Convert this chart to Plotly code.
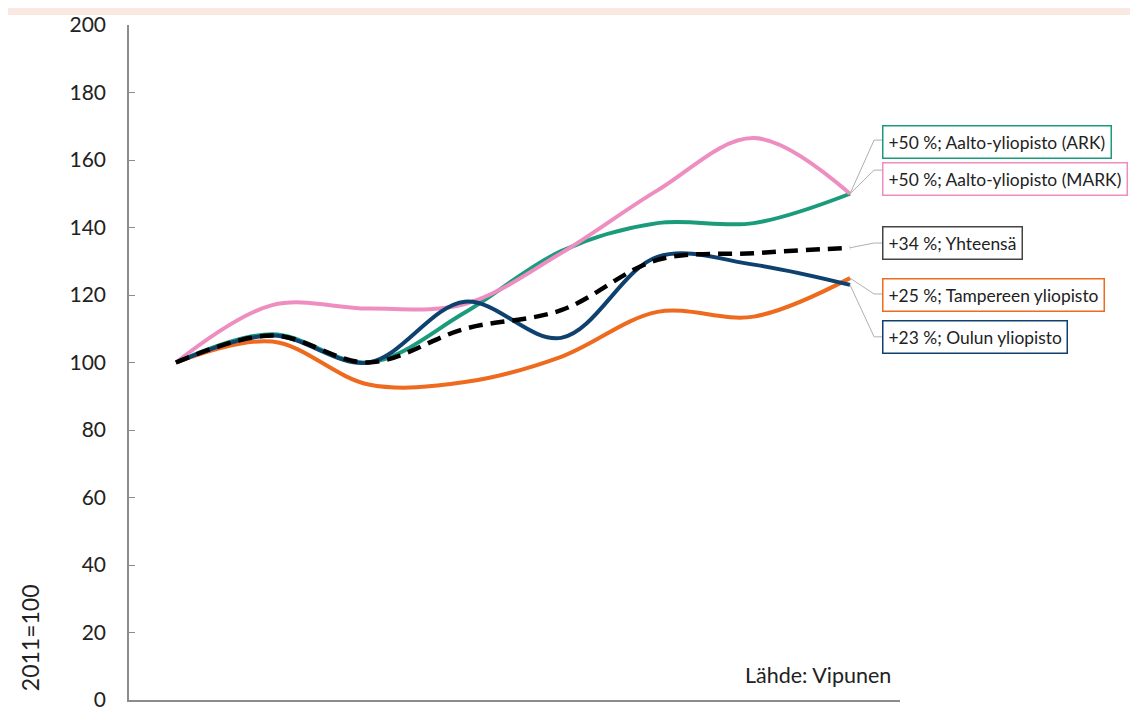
import plotly.graph_objects as go

# aineisto: indeksi 2011=100
vuodet = [2011, 2012, 2013, 2014, 2015, 2016, 2017, 2018]
aalto_ark = [100, 108.4, 100, 114.8, 133, 141.3, 141.3, 150]
aalto_mark = [100, 117, 116, 117.3, 132.4, 151, 166.5, 150]
yhteensa = [100, 108, 100, 110, 115.5, 130.4, 132.4, 134]
tampere = [100, 106.2, 93.5, 94.2, 101.7, 115, 113.6, 125]
oulu = [100, 108, 100, 118, 107.3, 131.3, 129, 123]

nimet = ["+50 %; Aalto-yliopisto (ARK)", "+50 %; Aalto-yliopisto (MARK)", "+34 %; Yhteensä",
         "+25 %; Tampereen yliopisto", "+23 %; Oulun yliopisto"]
sarjat = [aalto_ark, aalto_mark, yhteensa, tampere, oulu]
varit = ["#1A9B7C", "#EE8EC0", "#000000", "#EE6A1E", "#0F416F"]
laatikko_y = [165.3, 154.5, 135.3, 120.1, 107.7]   # laatikoiden keskikohdat (y)
kulma_y = [165.9, 157.0, 135.4, 120.3, 107.6]      # johtoviivan taitekohta
piirto = [0, 1, 3, 4, 2]                            # piirtojärjestys

FONT = "Lato"

fig = go.Figure()
for i in piirto:
    fig.add_trace(go.Scatter(
        x=vuodet, y=sarjat[i], mode="lines", name=nimet[i],
        line=dict(color=varit[i], width=4.5 if i == 2 else 4, shape="spline", smoothing=1,
                  dash="14px,8px" if i == 2 else "solid"),
        showlegend=False))

# johtoviivat ja laatikot
for i, nimi in enumerate(nimet):
    x0 = vuodet[-1]
    y0 = sarjat[i][-1]
    fig.add_shape(type="path", xref="x", yref="y",
                  path=f"M {x0},{y0} L {x0 + 0.25},{kulma_y[i]} L {x0 + 0.333},{kulma_y[i]}",
                  line=dict(color="#B0B0B0", width=1))
    fig.add_annotation(x=0.9767, xref="paper", y=laatikko_y[i], yref="y",
                       text=nimi, showarrow=False, xanchor="left", yanchor="middle",
                       font=dict(family=FONT, size=17.4, color="#222222"),
                       bordercolor=varit[i] if i != 2 else "#444444", borderwidth=1.5,
                       borderpad=5, bgcolor="white")

fig.add_annotation(x=0.991, xref="paper", y=7.4, yref="y", text="Lähde: Vipunen",
                   showarrow=False, xanchor="right", yanchor="middle",
                   font=dict(family=FONT, size=21.5, color="#222222"))
fig.add_annotation(x=-0.128, xref="paper", y=0.092, yref="paper", text="2011=100",
                   textangle=-90, showarrow=False, xanchor="center", yanchor="middle",
                   font=dict(family=FONT, size=23, color="#222222"))

# vaaleanpunainen raita ylhäällä
fig.add_shape(type="rect", xref="paper", yref="paper", x0=-0.3, x1=1.4,
              y0=1.0148, y1=1.04, fillcolor="#FAE9E3", line=dict(width=0), layer="below")

fig.update_xaxes(range=[2010.512, 2018.519], showgrid=False, zeroline=False,
                 showticklabels=False, ticks="", showline=True, automargin=False,
                 linecolor="#8C8C8C", linewidth=1.5)
fig.update_yaxes(range=[0, 200], dtick=20, showgrid=False, zeroline=False,
                 showline=True, linecolor="#8C8C8C", linewidth=1.5, automargin=False,
                 ticks="inside", ticklen=6, tickcolor="#8C8C8C",
                 ticklabelstandoff=17, ticklabeloverflow="allow",
                 tickfont=dict(family=FONT, size=21, color="#222222"))

# sivun body-marginaali (8 px) huomioitu mitoissa
fig.update_layout(width=1130, height=701, autosize=False,
                  margin=dict(l=121, r=238, t=17, b=9, autoexpand=False),
                  paper_bgcolor="white", plot_bgcolor="white")

fig.write_html("out.html")
